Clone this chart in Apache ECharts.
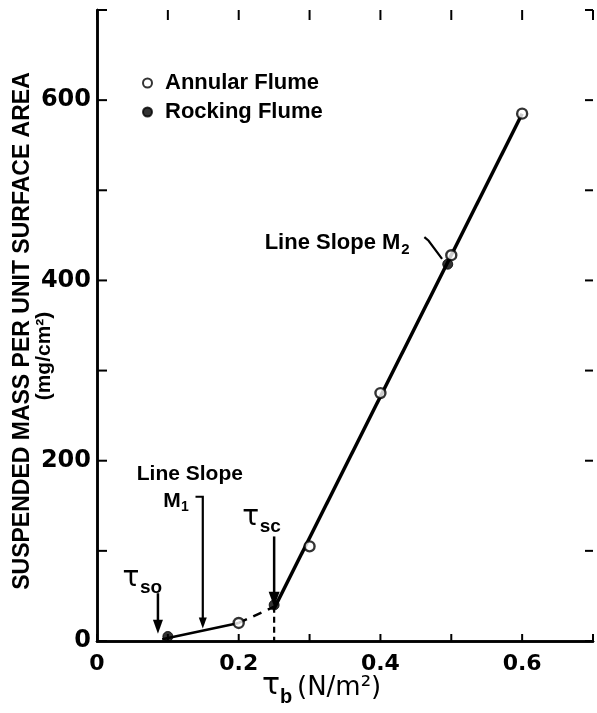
<!DOCTYPE html>
<html>
<head>
<meta charset="utf-8">
<script src="https://cdn.jsdelivr.net/npm/echarts@6/dist/echarts.min.js"></script>
<style>
  html, body { margin: 0; padding: 0; background: #fff; }
  #chart { width: 597px; height: 713px; }
</style>
</head>
<body>
<div id="chart"></div>
<script>
// Measured points, bed shear stress (N/m^2) vs suspended mass (mg/cm^2)
const annularTau  = [0.2, 0.3, 0.4, 0.5, 0.6];
const annularMass = [20, 105, 275, 428, 585];
const rockingTau  = [0.1, 0.25, 0.495];
const rockingMass = [5, 40, 418];

// Fitted segments
const slopeM1Tau  = [0.092, 0.2];
const slopeM1Mass = [2, 20];
const linkTau     = [0.2, 0.25];
const linkMass    = [20, 38];
const slopeM2Tau  = [0.25, 0.6];
const slopeM2Mass = [36, 585];

// Labelled ticks
const xTickLabels = [0, 0.2, 0.4, 0.6];
const yTickLabels = [0, 200, 400, 600];

// Threshold stresses marked on the plot
const tauSO = 0.086;
const tauSC = 0.25;

const X_MIN = 0, X_MAX = 0.7, X_STEP = 0.1;
const Y_MIN = 0, Y_MAX = 700, Y_STEP = 100;

const zip = (xs, ys) => xs.map((x, i) => [x, ys[i]]);
const near = (list, v) => list.some(t => Math.abs(t - v) < 1e-6);

const FONT = 'Liberation Sans';
const NUM_FONT = 'DejaVu Sans';

const chart = echarts.init(document.getElementById('chart'), null, { renderer: 'canvas' });

const axisLine = { show: true, lineStyle: { color: '#000', width: 2.5 } };

chart.setOption({
  backgroundColor: '#fff',
  animation: false,
  grid: { left: 97, right: 4, top: 10, bottom: 72, containLabel: false },
  legend: {
    orient: 'vertical',
    left: 137,
    top: 67,
    itemWidth: 9,
    itemHeight: 9,
    itemGap: 7,
    icon: 'circle',
    data: ['Annular Flume', 'Rocking Flume'],
    textStyle: { fontFamily: FONT, fontWeight: 'bold', fontSize: 22, color: '#000', lineHeight: 22, padding: [0, 0, 0, 8] }
  },
  xAxis: [
    {
      type: 'value', min: X_MIN, max: X_MAX, interval: X_STEP, position: 'bottom',
      axisLine, splitLine: { show: false }, axisTick: { show: false },
      axisLabel: {
        margin: 12, fontFamily: NUM_FONT, fontWeight: 'bold', fontSize: 22, color: '#000',
        formatter: v => near(xTickLabels, v) ? (Math.abs(v) < 1e-9 ? '0' : v.toFixed(1)) : ''
      }
    },
    {
      type: 'value', min: X_MIN, max: X_MAX, interval: X_STEP, position: 'top',
      axisLine, splitLine: { show: false }, axisTick: { show: false },
      axisLabel: { show: false }
    }
  ],
  yAxis: [
    {
      type: 'value', min: Y_MIN, max: Y_MAX, interval: Y_STEP, position: 'left',
      axisLine, splitLine: { show: false }, axisTick: { show: false },
      axisLabel: {
        margin: 6, fontFamily: NUM_FONT, fontWeight: 'bold', fontSize: 24, color: '#000',
        formatter: v => near(yTickLabels, v) ? String(v) : ''
      }
    },
    {
      type: 'value', min: Y_MIN, max: Y_MAX, interval: Y_STEP, position: 'right',
      axisLine, splitLine: { show: false }, axisTick: { show: false },
      axisLabel: { show: false }
    }
  ],
  series: [
    {
      name: 'Slope M2', type: 'line', data: zip(slopeM2Tau, slopeM2Mass),
      symbol: 'none', lineStyle: { color: '#000', width: 3.5 }, z: 2
    },
    {
      name: 'Slope M1', type: 'line', data: zip(slopeM1Tau, slopeM1Mass),
      symbol: 'none', lineStyle: { color: '#000', width: 2.5 }, z: 2
    },
    {
      name: 'Link', type: 'line', data: zip(linkTau, linkMass),
      symbol: 'none', lineStyle: { color: '#000', width: 2.5, type: [9, 7] }, z: 2
    },
    {
      name: 'Annular Flume', type: 'scatter', data: zip(annularTau, annularMass),
      symbol: 'circle', symbolSize: 10,
      itemStyle: { color: '#fff', borderColor: '#000', borderWidth: 2.4 }, z: 5
    },
    {
      name: 'Rocking Flume', type: 'scatter', data: zip(rockingTau, rockingMass),
      symbol: 'circle', symbolSize: 10,
      itemStyle: { color: '#000', borderColor: '#000', borderWidth: 1 }, z: 6
    }
  ]
});

// Pixel position of a data point on the main grid
const P = (x, y) => chart.convertToPixel({ xAxisIndex: 0, yAxisIndex: 0 }, [x, y]);

function text(pos, str, size, align, opts) {
  opts = opts || {};
  return {
    type: 'text', x: pos[0], y: pos[1], rotation: opts.rotation || 0, z: 10,
    style: {
      text: str, fontSize: size, fontFamily: opts.family || FONT,
      fontWeight: opts.weight || 'bold',
      fill: '#000', textAlign: align || 'center', textVerticalAlign: 'middle'
    }
  };
}
function line(points, width, dash) {
  return {
    type: 'polyline', z: 9,
    shape: { points },
    style: { stroke: '#000', lineWidth: width || 2.2, fill: null, lineDash: dash || null }
  };
}
function headDown(tip, w, h) {
  return {
    type: 'polygon', z: 9,
    shape: { points: [[tip[0] - w / 2, tip[1] - h], [tip[0] + w / 2, tip[1] - h], [tip[0], tip[1]]] },
    style: { fill: '#000' }
  };
}
function tauLabel(pos, sub) {
  return [
    text([pos[0] - 10, pos[1] - 3], 'τ', 28, 'center', { family: NUM_FONT, weight: 'normal' }),
    text([pos[0] - 1, pos[1] + 6], sub, 19, 'left')
  ];
}

const g = [];

// Inward-pointing ticks on all four sides of the frame
for (let i = 0; X_MIN + i * X_STEP <= X_MAX + 1e-9; i++) {
  const v = X_MIN + i * X_STEP;
  const b = P(v, Y_MIN), t = P(v, Y_MAX);
  g.push(line([b, [b[0], b[1] - 7]], 2));
  g.push(line([t, [t[0], t[1] + 10]], 2));
}
for (let i = 0; Y_MIN + i * Y_STEP <= Y_MAX + 1e-9; i++) {
  const v = Y_MIN + i * Y_STEP;
  const l = P(X_MIN, v), r = P(X_MAX, v);
  g.push(line([l, [l[0] + 10, l[1]]], 2));
  g.push(line([r, [r[0] - 8, r[1]]], 2));
}

// Axis titles
g.push(text([23, 331], 'SUSPENDED MASS PER UNIT SURFACE AREA', 23, 'center', { rotation: Math.PI / 2 }));
g.push(text([44, 356], '(mg/cm²)', 21, 'center', { rotation: Math.PI / 2 }));
g.push(text([271, 686], 'τ', 30, 'center', { family: NUM_FONT, weight: 'normal' }));
g.push(text([280, 697], 'b', 20, 'left'));
g.push(text([297, 688], '(N/m²)', 26, 'left', { family: NUM_FONT, weight: 'normal' }));

// tau_so threshold
{
  const top = P(tauSO, 53), tip = P(tauSO, 8);
  g.push(line([top, [tip[0], tip[1] - 10]], 2.5));
  g.push(headDown(tip, 10, 14));
  g.push(...tauLabel(P(0.062, 66), 'so'));
}

// Line slope M1 call-out
{
  const a = P(0.139, 160), b = P(0.1493, 160), tip = P(0.1493, 14);
  g.push(line([a, b, [tip[0], tip[1] - 8]], 2.2));
  g.push(headDown(tip, 8, 11));
  g.push(text(P(0.131, 185), 'Line Slope', 21, 'center'));
  const m = P(0.110, 155);
  g.push(text([m[0] - 3, m[1]], 'M', 21, 'center'));
  g.push(text([m[0] + 6, m[1] + 6], '1', 14, 'left'));
}

// tau_sc threshold
{
  const top = P(tauSC, 116), tip = P(tauSC, 38), base = P(tauSC, 0);
  g.push(line([top, [tip[0], tip[1] - 10]], 2.5));
  g.push(headDown(tip, 11, 15));
  g.push(line([tip, base], 2.2, [6, 4]));
  g.push(...tauLabel(P(0.231, 133), 'sc'));
}

// Line slope M2 call-out
{
  const t = P(0.445, 442);
  g.push(text([t[0] - 12, t[1]], 'Line Slope M', 22, 'right'));
  g.push(text([t[0] - 11, t[1] + 7], '2', 15, 'left'));
  g.push(line([P(0.462, 448), P(0.468, 444), P(0.487, 424)], 2.2));
}

chart.setOption({ graphic: g });
</script>
</body>
</html>
